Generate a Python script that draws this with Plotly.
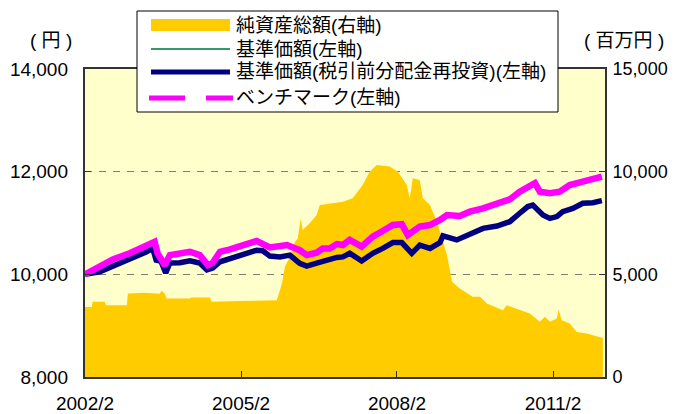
import plotly.graph_objects as go

# ---- data ----
nav_dates = ["2002-02-01","2002-05-15","2002-08-15","2002-12-12","2003-04-10","2003-05-22",
             "2003-06-19","2003-07-10","2003-08-22","2003-09-20","2003-11-29","2004-02-08",
             "2004-04-17","2004-06-06","2004-07-17","2004-09-06","2004-11-15","2005-02-15",
             "2005-05-22","2005-07-03","2005-08-22","2005-11-01","2006-01-10","2006-03-20",
             "2006-05-08","2006-07-17","2006-09-27","2006-12-06","2007-01-17","2007-03-06",
             "2007-05-29","2007-08-15","2007-10-24","2008-01-03","2008-03-06","2008-05-15",
             "2008-07-10","2008-09-20","2008-11-29","2008-12-20","2009-03-27","2009-06-06",
             "2009-07-17","2009-09-27","2010-01-03","2010-04-03","2010-06-12","2010-08-08",
             "2010-09-12","2010-10-17","2010-11-22","2011-01-10","2011-02-28","2011-04-10",
             "2011-06-20","2011-08-29","2011-11-08","2012-01-10"]
nav_values = [10000,10050,10160,10290,10440,10510,
              10245,10320,10025,10220,10225,10265,
              10220,10085,10120,10245,10310,10375,
              10470,10460,10355,10340,10375,10215,
              10160,10220,10290,10330,10340,10410,
              10260,10410,10505,10620,10620,10410,
              10570,10505,10620,10750,10670,10765,
              10820,10895,10940,11025,11190,11320,
              11350,11255,11155,11090,11125,11220,
              11285,11385,11395,11435]

bm_dates = ["2002-02-01","2002-05-15","2002-08-15","2002-12-12","2003-04-10","2003-06-05",
            "2003-06-26","2003-08-15","2003-09-20","2003-11-29","2004-02-08","2004-04-17",
            "2004-06-13","2004-07-17","2004-09-06","2004-11-15","2005-02-15","2005-05-22",
            "2005-08-22","2005-12-20","2006-03-20","2006-05-08","2006-07-17","2006-08-29",
            "2006-10-17","2006-12-06","2007-01-17","2007-03-06","2007-05-29","2007-08-15",
            "2007-10-24","2008-01-03","2008-03-06","2008-04-17","2008-07-10","2008-09-20",
            "2008-11-29","2009-01-17","2009-04-17","2009-06-27","2009-09-27","2010-01-03",
            "2010-04-03","2010-06-12","2010-08-08","2010-09-27","2010-11-01","2011-01-10",
            "2011-03-20","2011-05-29","2011-08-29","2011-11-08","2012-01-10"]
bm_values = [10000,10150,10290,10410,10570,10635,
             10410,10175,10375,10410,10440,10375,
             10180,10225,10440,10485,10570,10650,
             10525,10570,10470,10375,10420,10505,
             10505,10590,10570,10670,10540,10735,
             10845,10960,10975,10765,10930,10960,
             11060,11155,11135,11220,11285,11385,
             11460,11610,11710,11775,11610,11580,
             11610,11740,11805,11870,11905]

aum_dates = ["2002-02-01","2002-03-20","2002-03-27","2002-06-20","2002-06-27","2002-11-22",
             "2002-11-29","2003-03-27","2003-07-10","2003-07-24","2003-08-15","2003-08-29",
             "2004-02-08","2004-02-15","2004-06-27","2004-07-10","2005-01-24","2005-10-10",
             "2005-11-01","2005-11-15","2005-12-06","2006-01-10","2006-02-15","2006-03-06",
             "2006-03-27","2006-04-10","2006-05-29","2006-07-17","2006-08-08","2006-10-17",
             "2007-01-17","2007-03-27","2007-06-05","2007-07-24","2007-09-12","2007-12-12",
             "2008-02-08","2008-04-10","2008-05-01","2008-05-22","2008-07-10","2008-08-01",
             "2008-09-20","2008-11-08","2008-12-20","2009-01-17","2009-02-22","2009-04-17",
             "2009-07-17","2009-09-06","2009-10-24","2010-02-15","2010-03-12","2010-06-12",
             "2010-08-22","2010-11-01","2010-12-06","2011-01-10","2011-02-28","2011-03-12",
             "2011-04-03","2011-05-29","2011-07-17","2011-09-27","2012-01-17"]
aum_values = [3415,3415,3660,3660,3500,3500,
              4070,4100,4050,4200,4050,3825,
              3825,3875,3875,3660,3700,3740,
              4230,4560,5370,5860,6590,6750,
              7730,7160,7490,7890,8380,8460,
              8540,8705,9355,10000,10330,10250,
              10000,9355,8705,9680,9600,8705,
              8380,7565,6590,5940,4640,4315,
              3905,3905,3580,3255,3500,3255,
              3095,2685,2930,2685,2850,3290,
              2765,2605,2195,2115,1900]

x_tickvals = ["2002-02-01", "2005-02-01", "2008-02-01", "2011-02-01"]
x_ticktext = ["2002/2", "2005/2", "2008/2", "2011/2"]
left_ticks = [8000, 10000, 12000, 14000]
right_ticks = [0, 5000, 10000, 15000]

names = ["純資産総額(右軸)", "基準価額(左軸)", "基準価額(税引前分配金再投資)(左軸)", "ベンチマーク(左軸)"]

FONT = "Liberation Sans, Arial, Noto Sans CJK JP, sans-serif"
C_AUM, C_NAV, C_NAVR, C_BM = "#FFCC00", "#339966", "#000080", "#FF00FF"

fig = go.Figure()

# area on primary y (right side) so that it is drawn beneath the lines
fig.add_trace(go.Scatter(x=aum_dates, y=aum_values, mode="lines", fill="tozeroy", name=names[0],
                         fillcolor=C_AUM, line=dict(color=C_AUM, width=0), yaxis="y"))
# lines on y2 (left side)
fig.add_trace(go.Scatter(x=nav_dates, y=nav_values, mode="lines", name=names[1],
                         line=dict(color=C_NAV, width=1.5), yaxis="y2"))
fig.add_trace(go.Scatter(x=nav_dates, y=nav_values, mode="lines", name=names[2],
                         line=dict(color=C_NAVR, width=5.5), yaxis="y2"))
fig.add_trace(go.Scatter(x=bm_dates, y=bm_values, mode="lines", name=names[3],
                         line=dict(color=C_BM, width=6.5), yaxis="y2"))

# ---- hand-laid legend box (pixel positions converted to paper coords) ----
PL, PW, PT, PH = 85, 520, 69, 308
def px(x):
    return (x - PL) / PW
def py(y):
    return 1 - (y - PT) / PH

shapes = [
    dict(type="rect", xref="paper", yref="paper", x0=px(137), x1=px(558), y0=py(11), y1=py(112),
         line=dict(color="black", width=1), fillcolor="white", layer="above"),
    dict(type="rect", xref="paper", yref="paper", x0=px(151), x1=px(230), y0=py(19), y1=py(31),
         line=dict(width=0), fillcolor=C_AUM, layer="above"),
    dict(type="line", xref="paper", yref="paper", x0=px(151), x1=px(230), y0=py(49), y1=py(49),
         line=dict(color=C_NAV, width=2), layer="above"),
    dict(type="line", xref="paper", yref="paper", x0=px(151), x1=px(230), y0=py(72), y1=py(72),
         line=dict(color=C_NAVR, width=5), layer="above"),
    dict(type="line", xref="paper", yref="paper", x0=px(149), x1=px(185), y0=py(98), y1=py(98),
         line=dict(color=C_BM, width=5), layer="above"),
    dict(type="line", xref="paper", yref="paper", x0=px(206), x1=px(233), y0=py(98), y1=py(98),
         line=dict(color=C_BM, width=5), layer="above"),
]
legend_rows = [25, 49, 72, 98]
annotations = [dict(text=n, xref="paper", yref="paper", x=px(234), y=py(r), showarrow=False,
                    xanchor="left", yanchor="middle", font=dict(size=19))
               for n, r in zip(names, legend_rows)]
annotations += [
    dict(text="( 円 )", xref="paper", yref="paper", x=px(51), y=py(40),
         showarrow=False, xanchor="center", yanchor="middle", font=dict(size=19)),
    dict(text="( 百万円 )", xref="paper", yref="paper", x=px(624), y=py(40),
         showarrow=False, xanchor="center", yanchor="middle", font=dict(size=19)),
]

# page body adds an 8px offset; figure is sized so the plot area lands at x 85-605, y 69-377
fig.update_layout(
    width=670, height=406,
    margin=dict(l=77, r=73, t=61, b=37, autoexpand=False),
    paper_bgcolor="white", plot_bgcolor="#FFFFCC",
    font=dict(family=FONT, size=19, color="black"),
    showlegend=False,
    xaxis=dict(type="date", range=["2002-02-01", "2012-02-01"],
               tickvals=x_tickvals, ticktext=x_ticktext,
               ticks="inside", ticklen=6, tickcolor="#333333",
               showgrid=False, showline=True, linecolor="#333333", linewidth=2, mirror=True,
               ticklabelstandoff=8),
    yaxis=dict(side="right", range=[0, 15000], tickvals=right_ticks, tickformat=",",
               ticks="inside", ticklen=6, tickcolor="#333333", tickfont=dict(size=18),
               showgrid=False, showline=True, linecolor="#333333", linewidth=2, mirror=True,
               zeroline=False, ticklabelstandoff=2),
    yaxis2=dict(side="left", overlaying="y", range=[8000, 14000], tickvals=left_ticks,
                tickformat=",", ticks="inside", ticklen=6, tickcolor="#333333",
                showgrid=True, gridcolor="#7F7F6F", griddash="7px,7px", gridwidth=1.3,
                showline=False, zeroline=False, ticklabelstandoff=16),
    shapes=shapes,
    annotations=annotations,
)

fig.write_html("out.html")
